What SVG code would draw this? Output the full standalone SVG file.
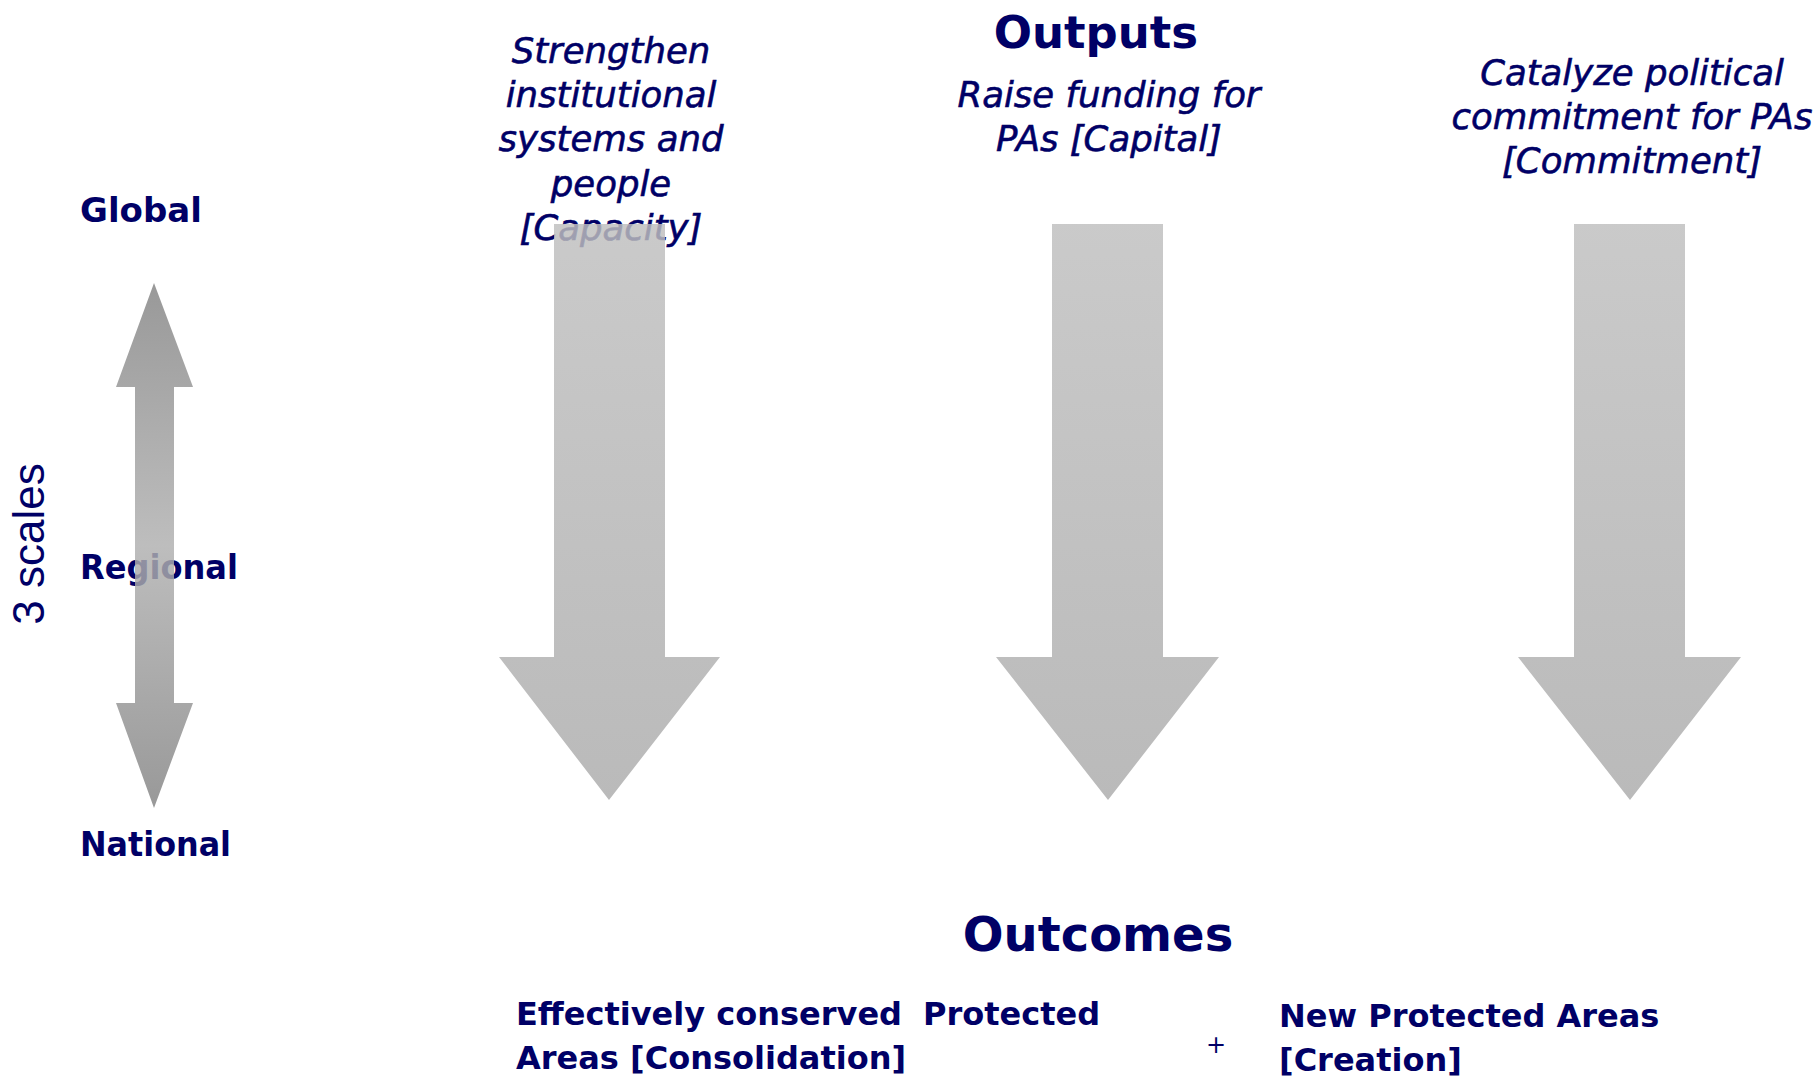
<svg xmlns="http://www.w3.org/2000/svg" width="1820" height="1077" viewBox="0 0 1820 1077">
  <style>
    text { fill: #000066; font-family: "DejaVu Sans", Verdana, sans-serif; }
    .title { font-size: 45px; font-weight: bold; text-anchor: middle; }
    .output { font-size: 35.5px; font-style: italic; text-anchor: middle; stroke: #000066; stroke-width: 0.6px; }
    .scale { font-size: 34px; font-weight: bold; }
    .outcome { font-size: 32px; font-weight: bold; }
    .side { font-family: "Liberation Sans", Arial, sans-serif; font-size: 44px; }
    .arrow { fill: url(#downGrad); fill-opacity: 0.83; }
  </style>
  <defs>
    <linearGradient id="downGrad" gradientUnits="userSpaceOnUse" x1="0" y1="224" x2="0" y2="800">
      <stop offset="0" stop-color="#bfbfbf"/>
      <stop offset="1" stop-color="#acacac"/>
    </linearGradient>
    <linearGradient id="scaleGrad" gradientUnits="userSpaceOnUse" x1="0" y1="283" x2="0" y2="808">
      <stop offset="0" stop-color="#848484"/>
      <stop offset="0.5" stop-color="#b0b0b0"/>
      <stop offset="1" stop-color="#848484"/>
    </linearGradient>
  </defs>

  <!-- headings -->
  <g id="outputs-title"><text class="title" x="1096" y="48">Outputs</text></g>
  <g id="outcomes-title"><text class="title" x="1098" y="951" style="font-size:48px">Outcomes</text></g>

  <!-- scale labels -->
  <g id="scale-labels">
    <text class="scale" x="80" y="222">Global</text>
    <text class="scale" x="80" y="579" textLength="158" lengthAdjust="spacingAndGlyphs">Regional</text>
    <text class="scale" x="80" y="856" textLength="151" lengthAdjust="spacingAndGlyphs">National</text>
    <text class="side" transform="translate(44,544) rotate(-90)" text-anchor="middle">3 scales</text>
  </g>

  <!-- output labels -->
  <g id="output-capacity">
    <text class="output" x="611" y="63">Strengthen</text>
    <text class="output" x="611" y="107">institutional</text>
    <text class="output" x="611" y="151">systems and</text>
    <text class="output" x="611" y="196">people</text>
    <text class="output" x="611" y="240">[Capacity]</text>
  </g>
  <g id="output-capital">
    <text class="output" x="1109" y="107">Raise funding for</text>
    <text class="output" x="1109" y="151">PAs [Capital]</text>
  </g>
  <g id="output-commitment">
    <text class="output" x="1632" y="85">Catalyze political</text>
    <text class="output" x="1632" y="129">commitment for PAs</text>
    <text class="output" x="1632" y="173">[Commitment]</text>
  </g>

  <!-- outcome labels -->
  <g id="outcome-consolidation">
    <text class="outcome" x="516" y="1025">Effectively conserved</text>
    <text class="outcome" x="923" y="1025">Protected</text>
    <text class="outcome" x="516" y="1069">Areas [Consolidation]</text>
  </g>
  <g id="outcome-plus"><text x="1216" y="1053" style="font-size:24px" text-anchor="middle">+</text></g>
  <g id="outcome-creation">
    <text class="outcome" x="1279" y="1027">New Protected Areas</text>
    <text class="outcome" x="1279" y="1071">[Creation]</text>
  </g>

  <!-- connectors: block arrows drawn over the labels -->
  <g id="connectors">
    <path id="scale-arrow" fill="url(#scaleGrad)" fill-opacity="0.83"
          d="M154,283 L193,387 L174,387 L174,703 L193,703 L154,808 L116,703 L135,703 L135,387 L116,387 Z"/>
    <path class="arrow" d="M554,224 L665,224 L665,657 L720,657 L609,800 L499,657 L554,657 Z"/>
    <path class="arrow" d="M1052,224 L1163,224 L1163,657 L1219,657 L1108,800 L996,657 L1052,657 Z"/>
    <path class="arrow" d="M1574,224 L1685,224 L1685,657 L1741,657 L1630,800 L1518,657 L1574,657 Z"/>
  </g>
</svg>
